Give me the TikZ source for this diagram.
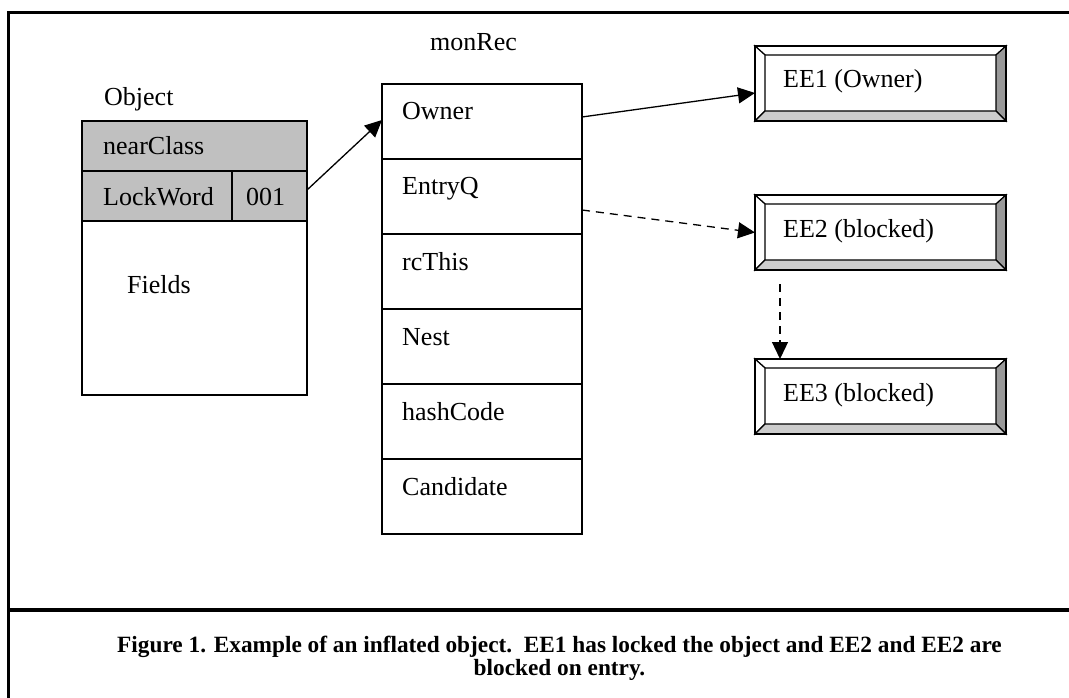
\documentclass[tikz,border=0pt]{standalone}
\usepackage{fontspec}
\setmainfont{Liberation Serif}
\usetikzlibrary{arrows.meta}
\definecolor{hdr}{HTML}{C0C0C0}
\definecolor{bevdark}{HTML}{999999}
\definecolor{bevlight}{HTML}{CCCCCC}
\tikzset{
  cell/.style={draw, line width=1.3pt, inner sep=0pt, outer sep=0pt, anchor=north west},
  txt/.style={anchor=base west, inner sep=0pt, font=\fontsize{26}{30}\selectfont},
  captxt/.style={anchor=base, inner sep=0pt, font=\fontsize{23.3}{23}\selectfont\bfseries},
  frame/.style={line width=3pt},
  arr/.style={line width=1.3pt, -{Triangle[length=17pt,width=16pt]}},
  darr/.style={arr, dash pattern=on 8pt off 6pt},
  eeouter/.style={cell, minimum width=251pt, minimum height=75pt},
  bev/.style={draw, line width=1.2pt, line join=miter},
}
\newcommand\eebox[4]{%
  \node[eeouter] (#1) at (#2,#3) {};
  \coordinate (#1-a) at ([xshift=10pt,yshift=-9pt]#1.north west);
  \coordinate (#1-b) at ([xshift=-10pt,yshift=-9pt]#1.north east);
  \coordinate (#1-c) at ([xshift=-10pt,yshift=10pt]#1.south east);
  \coordinate (#1-d) at ([xshift=10pt,yshift=10pt]#1.south west);
  \filldraw[bev, fill=white] (#1.north west) -- (#1.north east) -- (#1-b) -- (#1-a) -- cycle;
  \filldraw[bev, fill=white] (#1.north west) -- (#1-a) -- (#1-d) -- (#1.south west) -- cycle;
  \filldraw[bev, fill=bevdark] (#1.north east) -- (#1.south east) -- (#1-c) -- (#1-b) -- cycle;
  \filldraw[bev, fill=bevlight] (#1.south west) -- (#1-d) -- (#1-c) -- (#1.south east) -- cycle;
  \draw[line width=1.5pt] (#1.north west) rectangle (#1.south east);
  \node[txt] (#1-t) at ([xshift=28pt,yshift=-42pt]#1.north west) {#4};
}
\begin{document}
\begin{tikzpicture}[x=1pt,y=-1pt]
\useasboundingbox (0,0) rectangle (1069,698);
% frame
\coordinate (fbl) at (8.5,698);
\coordinate (ftl) at (8.5,12.5);
\coordinate (ftr) at (1069,12.5);
\coordinate (fdl) at (8.5,610);
\coordinate (fdr) at (1069,610);
\draw[frame] (fbl) -- (ftl) -- (ftr);
\draw[line width=4pt] (fdl) -- (fdr);

% Object
\node[txt] (objlbl) at (104,106) {Object};
\node[cell, fill=hdr, minimum width=225pt, minimum height=50pt] (nc) at (82,121) {};
\node[cell, fill=hdr, minimum width=150pt, minimum height=50pt] (lw) at (82,171) {};
\node[cell, fill=hdr, minimum width=75pt, minimum height=50pt] (bits) at (232,171) {};
\node[cell, minimum width=225pt, minimum height=174pt] (fld) at (82,221) {};
\node[txt] at (103,155) {nearClass};
\node[txt] at (103,205) {LockWord};
\node[txt] at (246,205) {001};
\node[txt] at (127,293) {Fields};

% monRec
\node[txt] (monlbl) at (430,51) {monRec};
\foreach \nm/\lab [count=\i from 0] in {own/Owner, entry/EntryQ, rct/rcThis, nest/Nest, hash/hashCode, cand/Candidate}{
  \node[cell, minimum width=200pt, minimum height=75pt] (\nm) at (382,84+75*\i) {};
  \node[txt] at ([xshift=20pt,yshift=-36pt]\nm.north west) {\lab};
}

% EE boxes
\eebox{ee1}{755}{46}{EE1 (Owner)}
\eebox{ee2}{755}{195}{EE2 (blocked)}
\eebox{ee3}{755}{359}{EE3 (blocked)}

% connectors
\draw[arr] ([yshift=6pt]bits.east) -- ([yshift=1.5pt]own.west);
\draw[arr] ([yshift=4.5pt]own.east) -- ([yshift=-9.5pt]ee1.west);
\draw[darr] ([yshift=-13.5pt]entry.east) -- (ee2.west);
\draw[darr, shorten <=14pt] ([xshift=25pt]ee2.south west) -- ([xshift=25pt]ee3.north west);

% caption
\node[captxt] (cap1) at (559.5,652) {Figure 1. Example of an inflated object.\ \ EE1 has locked the object and EE2 and EE2 are};
\node[captxt] (cap2) at (559.5,675) {blocked on entry.};
\end{tikzpicture}
\end{document}
